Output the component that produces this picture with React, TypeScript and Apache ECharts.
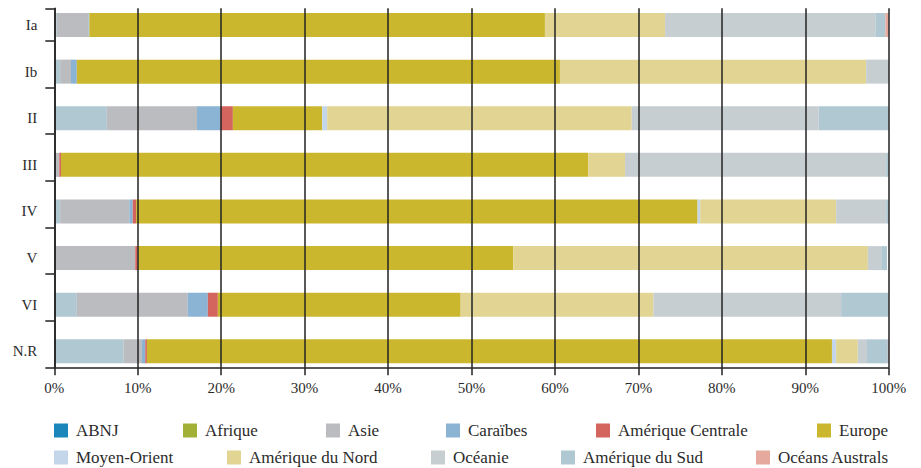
import React, { useEffect, useRef } from "react";
import * as echarts from "echarts";

const categories = ["Ia", "Ib", "II", "III", "IV", "V", "VI", "N.R"];
const seriesNames = [
  "ABNJ",
  "Afrique",
  "Asie",
  "Caraïbes",
  "Amérique Centrale",
  "Europe",
  "Moyen-Orient",
  "Amérique du Nord",
  "Océanie",
  "Amérique du Sud",
  "Océans Australs",
];
// share (%) of each region, per category (Ia ... N.R)
const abnj = [0.3, 0.7, 6.3, 0, 0.7, 0, 2.7, 8.3];
const afrique = [0, 0, 0, 0, 0, 0, 0, 0];
const asie = [3.8, 1.3, 10.8, 0.6, 8.3, 9.7, 13.3, 2.2];
const caraibes = [0.1, 0.7, 2.8, 0, 0.4, 0, 2.4, 0.4];
const ameriqueCentrale = [0, 0, 1.5, 0.2, 0.4, 0.3, 1.2, 0.2];
const europe = [54.6, 57.9, 10.7, 63.2, 67.3, 45.0, 29.1, 82.1];
const moyenOrient = [0, 0, 0.6, 0, 0.3, 0, 0, 0.5];
const ameriqueNord = [14.4, 36.7, 36.5, 4.4, 16.3, 42.5, 23.1, 2.6];
const oceanie = [25.2, 2.7, 22.4, 31.3, 6.0, 1.6, 22.5, 1.1];
const ameriqueSud = [1.2, 0, 8.4, 0.3, 0.3, 0.7, 5.7, 2.5];
const oceansAustrals = [0.4, 0, 0, 0, 0, 0, 0, 0.1];

const xMin = 0;
const xMax = 100;
const xInterval = 10;

const seriesValues = [
  abnj,
  afrique,
  asie,
  caraibes,
  ameriqueCentrale,
  europe,
  moyenOrient,
  ameriqueNord,
  oceanie,
  ameriqueSud,
  oceansAustrals,
];

// styles
const barColors = [
  "#b0c8d2",
  "#a2b136",
  "#bbbcbf",
  "#8bb3d4",
  "#d4645e",
  "#cbb72d",
  "#c4d7ea",
  "#e2d593",
  "#c7ced1",
  "#b0c8d2",
  "#e5a99e",
];
const legendColors = [
  "#1a86b9",
  "#a2b136",
  "#bbbcbf",
  "#8bb3d4",
  "#d4645e",
  "#cbb72d",
  "#c4d7ea",
  "#e2d593",
  "#c7ced1",
  "#b0c8d2",
  "#e5a99e",
];
const legendLeft = [54, 183, 326, 446, 596, 817, 54, 227, 431, 561, 756];
const legendTop = [422, 422, 422, 422, 422, 422, 449, 449, 449, 449, 449];

const FONT = "'Liberation Serif', 'DejaVu Serif', serif";
const TEXT = "#2b2b2b";
const LINE = "#222222";

export default function App() {
  const ref = useRef<HTMLDivElement>(null);

  useEffect(() => {
    if (!ref.current) return;
    const chart = echarts.init(ref.current, undefined, { renderer: "svg" });

    const gridLeft = 54.3;
    const gridRight = 32.3;
    const unit = 46.62;
    const decoTop = 8.3;
    const decoBottomY = 367.3;
    const aTop = 1.7;
    const aHeight = 8 * unit;

    const option: any = {
      animation: false,
      textStyle: { fontFamily: FONT, color: TEXT },
      grid: [
        { left: gridLeft, right: gridRight, top: aTop, height: aHeight },
        {
          left: gridLeft,
          right: gridRight,
          top: decoTop,
          height: decoBottomY - decoTop,
        },
      ],
      xAxis: [
        { gridIndex: 0, type: "value", min: xMin, max: xMax, show: false },
        {
          gridIndex: 1,
          type: "value",
          min: xMin,
          max: xMax,
          interval: xInterval,
          z: 5,
          axisLine: { show: true, onZero: false, lineStyle: { color: LINE, width: 1.5 } },
          axisTick: {
            show: true,
            length: 8,
            inside: false,
            lineStyle: { color: LINE, width: 1.5 },
          },
          axisLabel: {
            formatter: "{value}%",
            fontFamily: FONT,
            fontSize: 15,
            color: TEXT,
            margin: 13,
          },
          splitLine: { show: true, lineStyle: { color: LINE, width: 1.5 } },
        },
      ],
      yAxis: [
        {
          gridIndex: 0,
          type: "category",
          inverse: true,
          data: categories,
          axisLine: { show: false },
          axisTick: { show: false },
          splitLine: { show: false },
          axisLabel: {
            fontFamily: FONT,
            fontSize: 15,
            color: TEXT,
            margin: 17,
          },
        },
        {
          gridIndex: 1,
          type: "value",
          min: 0,
          max: 7.7,
          interval: 1,
          position: "left",
          z: 6,
          axisLine: { show: true, onZero: false, lineStyle: { color: LINE, width: 1.5 } },
          axisTick: {
            show: true,
            length: 9,
            inside: false,
            lineStyle: { color: LINE, width: 1.5 },
          },
          axisLabel: { show: false },
          splitLine: { show: false },
        },
      ],
      legend: seriesNames.map((name, i) => ({
        data: [{ name, itemStyle: { color: legendColors[i] } }],
        left: legendLeft[i],
        top: legendTop[i],
        orient: "horizontal",
        icon: "rect",
        itemWidth: 14,
        itemHeight: 14,
        padding: 0,
        selectedMode: false,
        textStyle: {
          fontFamily: FONT,
          fontSize: 17,
          color: TEXT,
          padding: [0, 0, 0, 3],
        },
      })),
      series: seriesNames.map((name, i) => ({
        name,
        type: "bar",
        stack: "total",
        xAxisIndex: 0,
        yAxisIndex: 0,
        barWidth: 24,
        itemStyle: { color: barColors[i] },
        emphasis: { disabled: true },
        data: seriesValues[i],
      })),
    };

    chart.setOption(option);
    return () => chart.dispose();
  }, []);

  return (
    <div
      ref={ref}
      style={{
        position: "fixed",
        left: 0,
        top: 0,
        width: 921,
        height: 468,
        background: "#ffffff",
      }}
    />
  );
}
